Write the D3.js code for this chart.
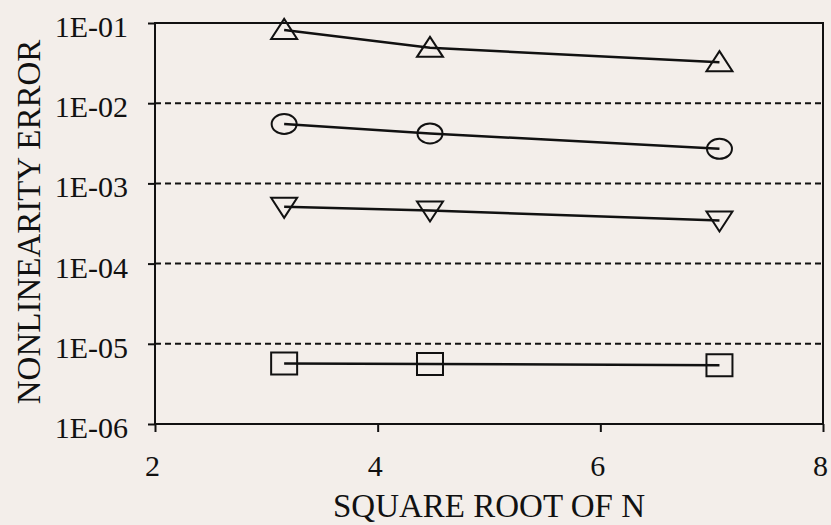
<!DOCTYPE html>
<html>
<head>
<meta charset="utf-8">
<script src="https://cdn.jsdelivr.net/npm/d3@7"></script>
<style>
  html, body { margin: 0; padding: 0; background: #f3eeea; }
  svg { display: block; }
  text { font-family: "Liberation Serif", "Times New Roman", serif; fill: #111; }
</style>
</head>
<body>
<svg width="831" height="525"></svg>
<script>
// sqrt(N) values
const xValues = [3.16, 4.47, 7.07];
// one series per marker
const triangleUp = [0.082, 0.049, 0.0325];
const circles = [0.0055, 0.0042, 0.0027];
const triangleDown = [0.00051, 0.00046, 0.000345];
const squares = [5.7e-6, 5.6e-6, 5.4e-6];
const xTicks = [2, 4, 6, 8];
const yTicks = [1e-1, 1e-2, 1e-3, 1e-4, 1e-5, 1e-6];
const yTickLabels = ["1E-01", "1E-02", "1E-03", "1E-04", "1E-05", "1E-06"];

const series = [
    { values: triangleUp, symbol: "triUp" },
    { values: circles, symbol: "circle" },
    { values: triangleDown, symbol: "triDown" },
    { values: squares, symbol: "square" }
];

const svg = d3.select("svg");
const margin = { left: 155, right: 8, top: 23, bottom: 101 };
const width = 831, height = 525;

const x = d3.scaleLinear().domain([2, 8]).range([margin.left, width - margin.right]);
const y = d3.scaleLog().domain([1e-6, 1e-1]).range([height - margin.bottom, margin.top]);

// dashed gridlines
svg.append("g")
    .selectAll("line")
    .data(yTicks.slice(1, 5))
    .enter().append("line")
    .attr("x1", x(2)).attr("x2", x(8))
    .attr("y1", d => y(d)).attr("y2", d => y(d))
    .attr("stroke", "#111")
    .attr("stroke-width", 2)
    .attr("stroke-dasharray", "6,4");

// frame
svg.append("rect")
    .attr("x", x(2)).attr("y", y(1e-1))
    .attr("width", x(8) - x(2)).attr("height", y(1e-6) - y(1e-1))
    .attr("fill", "none").attr("stroke", "#111").attr("stroke-width", 2);

// y axis
const yAxis = d3.axisLeft(y)
    .tickValues(yTicks)
    .tickFormat((d, i) => yTickLabels[i])
    .tickSize(7)
    .tickPadding(20);
const gy = svg.append("g").attr("transform", "translate(" + x(2) + ",0)").call(yAxis);
gy.select(".domain").remove();
gy.selectAll("line").attr("stroke", "#111").attr("stroke-width", 2);
gy.selectAll("text")
    .attr("dy", "0.45em")
    .style("font-size", "30px")
    .style("font-family", "'Liberation Serif', serif")
    .attr("fill", "#111");

// x axis
const xAxis = d3.axisBottom(x)
    .tickValues(xTicks)
    .tickFormat(d3.format("d"))
    .tickSize(8)
    .tickPadding(23);
const gx = svg.append("g").attr("transform", "translate(0," + y(1e-6) + ")").call(xAxis);
gx.select(".domain").remove();
gx.selectAll("line").attr("stroke", "#111").attr("stroke-width", 2);
gx.selectAll("text")
    .attr("dx", "-0.1em")
    .style("font-size", "30px")
    .style("font-family", "'Liberation Serif', serif")
    .attr("fill", "#111");

// axis titles
svg.append("text")
    .attr("x", (x(2) + x(8)) / 2)
    .attr("y", 517)
    .attr("text-anchor", "middle")
    .style("font-size", "33px")
    .text("SQUARE ROOT OF N");

svg.append("text")
    .attr("transform", "translate(40," + 222 + ") rotate(-90)")
    .attr("text-anchor", "middle")
    .style("font-size", "33px")
    .text("NONLINEARITY ERROR");

// lines
const line = d3.line()
    .x((d, i) => x(xValues[i]))
    .y(d => y(d));

series.forEach(s => {
    svg.append("path")
        .datum(s.values)
        .attr("d", line)
        .attr("fill", "none")
        .attr("stroke", "#111")
        .attr("stroke-width", 2.5);
});

// markers
function markerPath(symbol) {
    const w = 13, h = 10;
    if (symbol === "triUp") return "M0," + (-h - 1) + "L" + w + "," + (h - 1) + "L" + (-w) + "," + (h - 1) + "Z";
    if (symbol === "triDown") return "M0," + (h + 1) + "L" + w + "," + (-h + 1) + "L" + (-w) + "," + (-h + 1) + "Z";
    if (symbol === "square") return "M" + (-w) + "," + (-h - 1) + "H" + w + "V" + (h + 1) + "H" + (-w) + "Z";
    return null;
}

series.forEach(s => {
    const g = svg.append("g");
    const pts = g.selectAll("g")
        .data(s.values)
        .enter().append("g")
        .attr("transform", (d, i) => "translate(" + x(xValues[i]) + "," + y(d) + ")");
    if (s.symbol === "circle") {
        pts.append("ellipse")
            .attr("rx", 12.5).attr("ry", 10)
            .attr("fill", "none").attr("stroke", "#111").attr("stroke-width", 2);
    } else {
        pts.append("path")
            .attr("d", markerPath(s.symbol))
            .attr("fill", "none").attr("stroke", "#111").attr("stroke-width", 2);
    }
});
</script>
</body>
</html>
